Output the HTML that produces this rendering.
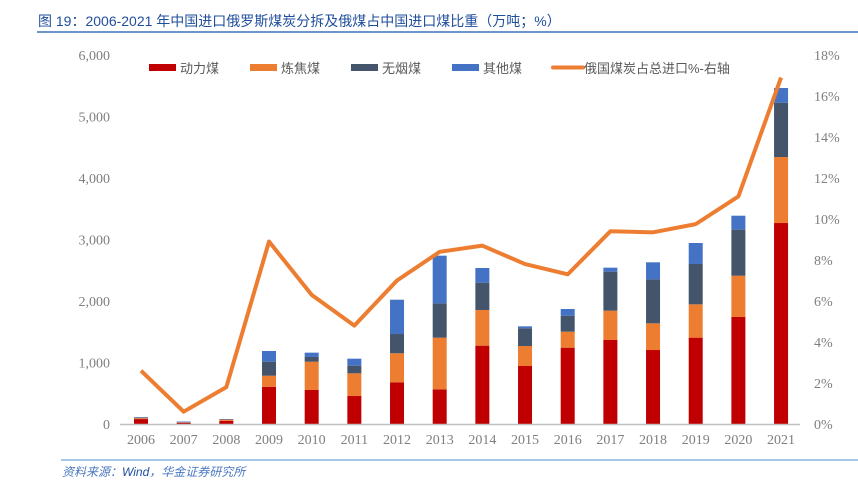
<!DOCTYPE html>
<html><head><meta charset="utf-8"><style>
body{margin:0;background:#fff;width:858px;height:488px;overflow:hidden;font-family:"Liberation Serif","Noto Serif CJK SC",serif}
</style></head><body>
<svg width="858" height="488" xmlns="http://www.w3.org/2000/svg">
<text x="38" y="26" font-family="'Liberation Sans','Noto Sans CJK SC',sans-serif" font-size="14" fill="#1f4e9c">图 19：2006-2021 年中国进口俄罗斯煤炭分拆及俄煤占中国进口煤比重（万吨；%）</text>
<line x1="37" y1="32" x2="858" y2="32" stroke="#3b73b9" stroke-width="1.5"/>
<g id="yl"></g>
<g id="yr"></g>
<g id="bars"></g>
<line x1="120" y1="424.5" x2="800" y2="424.5" stroke="#bfbfbf" stroke-width="1.5"/>
<g id="xl"></g>
<g id="ln"></g>
<g font-family="'Liberation Sans','Noto Sans CJK SC',sans-serif" font-size="13" fill="#595959">
<g><rect x="149" y="64" width="27" height="7" fill="#c00000"/><text x="180" y="73">动力煤</text></g>
<g><rect x="250" y="64" width="27" height="7" fill="#ed7d31"/><text x="281" y="73">炼焦煤</text></g>
<g><rect x="351" y="64" width="27" height="7" fill="#44546a"/><text x="382" y="73">无烟煤</text></g>
<g><rect x="452" y="64" width="27" height="7" fill="#4472c4"/><text x="483" y="73">其他煤</text></g>
<g><line x1="553" y1="67.5" x2="583" y2="67.5" stroke="#ed7d31" stroke-width="4" stroke-linecap="round"/><text x="584" y="73">俄国煤炭占总进口%-右轴</text></g>
</g>
<line x1="61" y1="460" x2="858" y2="460" stroke="#6fa8dc" stroke-width="1.2"/>
<text x="62" y="476" font-family="'Liberation Sans','Noto Sans CJK SC',sans-serif" font-size="12" font-style="italic" fill="#4a78c2">资料来源：<tspan fill="#1f4e9c">Wind</tspan>，华金证券研究所</text>
</svg>
<script>
const years=["2006","2007","2008","2009","2010","2011","2012","2013","2014","2015","2016","2017","2018","2019","2020","2021"];
const thermal=[80,20,50,605,553,455,678,564,1274,943,1241,1366,1203,1404,1740,3268];
const coking=[15,5,20,180,460,369,472,840,580,325,260,477,434,542,671,1073];
const anthracite=[10,5,10,228,77,124,313,558,444,288,260,634,715,656,749,883];
const other=[5,10,0,174,70,114,558,775,239,32,109,65,277,341,227,239];
const share=[2.6,0.6,1.8,8.9,6.3,4.8,7.0,8.4,8.7,7.8,7.3,9.4,9.35,9.75,11.1,16.9];
const leftTicks=["0","1,000","2,000","3,000","4,000","5,000","6,000"];
const rightTicks=["0%","2%","4%","6%","8%","10%","12%","14%","16%","18%"];
const NS="http://www.w3.org/2000/svg";
const y0=424,yTop=55;
const yL=v=>y0-(v/6000)*(y0-yTop);
const yR=p=>y0-(p/18)*(y0-yTop);
const xC=i=>141+i*42.67;
function mk(t,a,p){const e=document.createElementNS(NS,t);for(const k in a)e.setAttribute(k,a[k]);p.appendChild(e);return e;}
const gl=document.getElementById('yl'),gr=document.getElementById('yr'),gx=document.getElementById('xl'),gb=document.getElementById('bars'),gn=document.getElementById('ln');
leftTicks.forEach((t,i)=>{const e=mk('text',{x:110,y:yL(i*1000)+5,'text-anchor':'end','font-size':14,fill:'#7f7f7f'},gl);e.textContent=t;

});
rightTicks.forEach((t,i)=>{const e=mk('text',{x:814,y:yR(i*2)+5,'font-size':14,fill:'#7f7f7f'},gr);e.textContent=t;

});
years.forEach((t,i)=>{const e=mk('text',{x:xC(i),y:444,'text-anchor':'middle','font-size':14,fill:'#7f7f7f'},gx);e.textContent=t;

});
const series=[[thermal,'#c00000','thermal'],[coking,'#ed7d31','coking'],[anthracite,'#44546a','anthracite'],[other,'#4472c4','other']];
years.forEach((yr,i)=>{let acc=0;series.forEach(([arr,c,n])=>{const v=arr[i];if(v<=0)return;const top=yL(acc+v),bot=yL(acc);
const r=mk('rect',{x:xC(i)-7,y:top,width:14,height:bot-top,fill:c},gb);


acc+=v;});});
const pts=share.map((p,i)=>xC(i)+','+yR(p)).join(' ');
const pl=mk('polyline',{points:pts,fill:'none',stroke:'#ed7d31','stroke-width':4,'stroke-linejoin':'round'},gn);


</script>
</body></html>
